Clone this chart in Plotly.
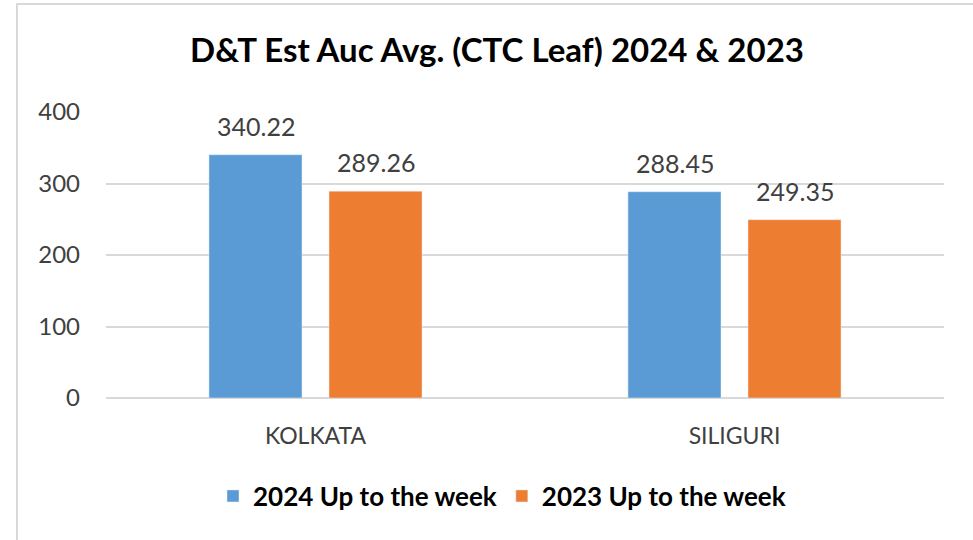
import plotly.graph_objects as go

categories = ["KOLKATA", "SILIGURI"]
series_2024 = [340.22, 288.45]
series_2023 = [289.26, 249.35]
name_2024 = "2024 Up to the week"
name_2023 = "2023 Up to the week"
tick_vals = [0, 100, 200, 300, 400]

FONT = "Lato, Open Sans, sans-serif"

fig = go.Figure()
fig.add_trace(go.Bar(
    x=categories, y=series_2024, name="<b>" + name_2024 + "</b>",
    marker=dict(color="#5B9BD5"),
))
fig.add_trace(go.Bar(
    x=categories, y=series_2023, name="<b>" + name_2023 + "</b>",
    marker=dict(color="#ED7D31"),
))

# data labels above each bar
for vals, dx in ((series_2024, -60), (series_2023, 60)):
    for cat, v in zip(categories, vals):
        fig.add_annotation(x=cat, y=v, text=f"{v:.2f}", showarrow=False,
                           xshift=dx, yshift=29, yanchor="middle",
                           font=dict(size=25, color="#404040", family=FONT))

W, H = 973, 540
L, R, T, B = 106, W - 944, 112, H - 398
pw, ph = W - L - R, H - T - B

def px_x(p):
    return (p - L) / pw

def px_y(p):
    return (H - B - p) / ph

fig.update_layout(
    width=W, height=H,
    margin=dict(l=L, r=R, t=T, b=B, pad=0, autoexpand=False),
    paper_bgcolor="white", plot_bgcolor="white",
    barmode="group", bargap=0.427, bargroupgap=0.225,
    title=dict(text="<b>D&T Est Auc Avg. (CTC Leaf) 2024 & 2023</b>",
               x=497 / W, xref="container", xanchor="center",
               y=1 - 50 / H, yref="container", yanchor="middle",
               font=dict(size=33, color="#000000", family=FONT)),
    font=dict(family=FONT, color="#404040"),
    legend=dict(orientation="h", x=502 / W, xanchor="center", xref="container",
                y=1 - 496 / H, yref="container", yanchor="middle",
                font=dict(size=26, color="#000000", family=FONT),
                traceorder="normal"),
    showlegend=True,
    shapes=[dict(type="rect", xref="paper", yref="paper",
                 x0=px_x(17), x1=px_x(990), y0=px_y(560), y1=px_y(4),
                 line=dict(color="#D9D9D9", width=2), layer="below")],
)
fig.update_xaxes(showgrid=False, showline=False, ticks="",
                 tickfont=dict(size=23, color="#404040", family=FONT),
                 ticklabelstandoff=22)
fig.update_yaxes(range=[0, 400], tickvals=tick_vals, showgrid=True,
                 gridcolor="#D9D9D9", gridwidth=1.5, zeroline=True,
                 zerolinecolor="#D9D9D9", zerolinewidth=1.5, showline=False,
                 ticks="", tickfont=dict(size=24, color="#404040", family=FONT),
                 ticklabelstandoff=25)

fig.write_html("out.html", config={"displayModeBar": False},
               post_script="document.body.style.margin='0';document.body.style.overflow='hidden';")
